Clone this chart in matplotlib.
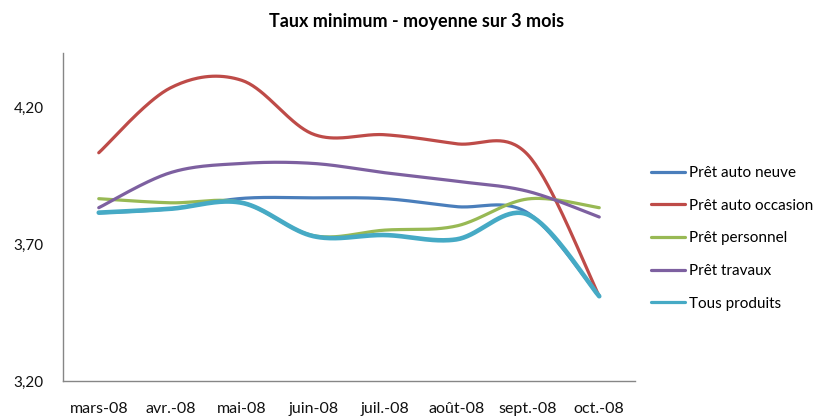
import numpy as np
import matplotlib
matplotlib.use("Agg")
import matplotlib.pyplot as plt

plt.rcParams['font.family'] = ['Lato', 'DejaVu Sans']

title = "Taux minimum - moyenne sur 3 mois"
categories = ["mars-08", "avr.-08", "mai-08", "juin-08", "juil.-08", "août-08", "sept.-08", "oct.-08"]

auto_neuve = [3.815, 3.830, 3.868, 3.870, 3.867, 3.838, 3.815, 3.510]
auto_occasion = [4.035, 4.272, 4.300, 4.103, 4.101, 4.068, 4.028, 3.510]
personnel = [3.867, 3.852, 3.853, 3.732, 3.752, 3.767, 3.866, 3.834]
travaux = [3.834, 3.962, 3.996, 3.996, 3.962, 3.931, 3.894, 3.800]
tous = [3.816, 3.830, 3.852, 3.730, 3.734, 3.718, 3.809, 3.510]

series_names = ["Prêt auto neuve", "Prêt auto occasion", "Prêt personnel", "Prêt travaux", "Tous produits"]
series_values = [auto_neuve, auto_occasion, personnel, travaux, tous]
colors = ["#4A7EBB", "#BE4B48", "#98B954", "#7D60A0", "#46AAC5"]
widths = [2.3, 2.3, 2.3, 2.3, 3.3]

yticks = [3.20, 3.70, 4.20]
ytick_labels = ["3,20", "3,70", "4,20"]

W, H, DPI = 827, 418, 100
ax_left, ax_right, ax_bottom, ax_top = 63, 635, 381, 53  # pixels
ymin, ymax = 3.20, 4.40


def excel_smooth(xs, ys, sx, sy, n=40):
    P = np.column_stack([np.asarray(xs, float) * sx, np.asarray(ys, float) * sy])
    N = len(P)
    out = []
    t = np.linspace(0, 1, n)[:, None]
    for i in range(N - 1):
        p0 = P[i - 1] if i > 0 else P[i]
        p1 = P[i]
        p2 = P[i + 1]
        p3 = P[i + 2] if i + 2 < N else P[i + 1]
        d12 = np.linalg.norm(p2 - p1)
        d1 = (p2 - p0) / 6.0
        d2 = (p3 - p1) / 6.0
        if np.linalg.norm(d1) > d12 / 2:
            d1 = d1 / np.linalg.norm(d1) * d12 / 2
        if np.linalg.norm(d2) > d12 / 2:
            d2 = d2 / np.linalg.norm(d2) * d12 / 2
        c1 = p1 + d1
        c2 = p2 - d2
        seg = (1 - t) ** 3 * p1 + 3 * (1 - t) ** 2 * t * c1 + 3 * (1 - t) * t ** 2 * c2 + t ** 3 * p2
        out.append(seg if i == 0 else seg[1:])
    arr = np.vstack(out)
    return arr[:, 0] / sx, arr[:, 1] / sy


fig = plt.figure(figsize=(W / DPI, H / DPI), dpi=DPI)
ax = fig.add_axes([ax_left / W, 1 - ax_bottom / H, (ax_right - ax_left) / W, (ax_bottom - ax_top) / H])

x = np.arange(len(categories))
sx = (ax_right - ax_left) / len(categories)
sy = (ax_bottom - ax_top) / (ymax - ymin)

for name, vals, c, lw in zip(series_names, series_values, colors, widths):
    xs, ys = excel_smooth(x, vals, sx, sy)
    ax.plot(xs, ys, color=c, lw=lw, label=name, solid_capstyle='round')

ax.set_xlim(-0.5, len(categories) - 0.5)
ax.set_ylim(ymin, ymax)
ax.set_xticks(x)
ax.set_xticklabels(categories, fontsize=11.5, color="#111111")
ax.set_yticks(yticks)
ax.set_yticklabels(ytick_labels, fontsize=11, color="#111111")
ax.tick_params(axis='x', length=0, pad=15)
ax.tick_params(axis='y', length=0, pad=14)

for s in ['top', 'right']:
    ax.spines[s].set_visible(False)
for s in ['left', 'bottom']:
    ax.spines[s].set_color("#868686")
    ax.spines[s].set_linewidth(1.0)

fig.text(417 / W, 1 - 21 / H, title, ha='center', va='center', fontsize=13, fontweight='bold')

leg = ax.legend(loc='upper left', bbox_to_anchor=(651 / W, 1 - 166 / H), bbox_transform=fig.transFigure,
                frameon=False, fontsize=11, handlelength=2.2, handletextpad=0.3, labelspacing=1.22,
                borderaxespad=0, borderpad=0)
for h in leg.get_lines():
    h.set_linewidth(2.3)

fig.savefig("out.png", dpi=DPI)
